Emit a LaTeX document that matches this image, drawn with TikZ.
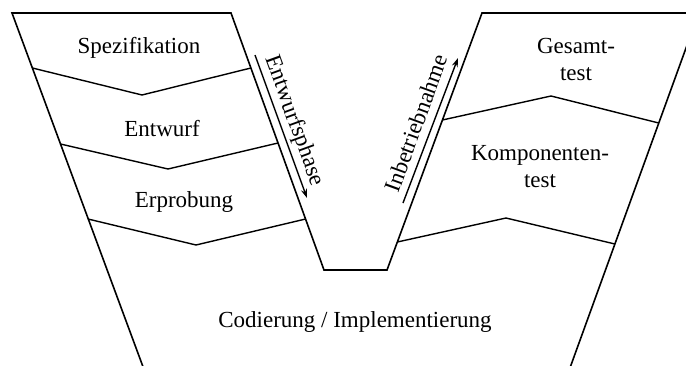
\documentclass[tikz,border=0pt]{standalone}
\usepackage{fontspec}
\setmainfont{Liberation Serif}
\usetikzlibrary{arrows.meta}
\begin{document}
\begin{tikzpicture}[x=1pt,y=-1pt,
  outline/.style={line width=1.6pt,line join=miter},
  sep/.style={line width=1.4pt},
  phasearrow/.style={line width=1.4pt,-{Stealth[length=9pt,width=6pt]}},
  lbl/.style={font=\fontsize{23}{27}\selectfont,align=center,inner sep=0pt}]
\useasboundingbox (0,0) rectangle (686,365);
\clip (0,0) rectangle (686,365);
% outline coordinates
\coordinate (TL) at (12,13);
\coordinate (TLi) at (231,13);
\coordinate (BLi) at (324,270);
\coordinate (BRi) at (387,270);
\coordinate (TRi) at (482,13);
\coordinate (TR) at (698.7,13);
\coordinate (BL) at (144.2,370);
\coordinate (BR) at (569.2,370);
% outline
\draw[outline] (BL) -- (TL) -- (TLi) -- (BLi) -- (BRi) -- (TRi) -- (TR) -- (BR);
% left separators
\draw[sep] (32.4,68) -- (142,95) -- (250.9,68);
\draw[sep] (60.5,144) -- (168,169) -- (278,143);
\draw[sep] (88,219) -- (196,245) -- (305.6,219);
% right separators
\draw[sep] (442.4,120) -- (551,96) -- (658.8,123);
\draw[sep] (397.3,242) -- (506,218) -- (614.9,244);
% labels
\node[lbl] (spez) at (139,48) {Spezifikation};
\node[lbl] (entw) at (162,129) {Entwurf};
\node[lbl] (erpr) at (184,202) {Erprobung};
\node[lbl] (gesa) at (576,59) {Gesamt-\\test};
\node[lbl] (komp) at (540,167) {Komponenten-\\test};
\node[lbl] (code) at (355,322) {Codierung / Implementierung};
% phase arrows
\coordinate (a1s) at (255,55);
\coordinate (a1e) at (307,198);
\draw[phasearrow] (a1s) -- (a1e);
\node[lbl,rotate=-70] (ephase) at (294,121) {Entwurfsphase};
\coordinate (a2s) at (403,203);
\coordinate (a2e) at (458,58);
\draw[phasearrow] (a2s) -- (a2e);
\node[lbl,rotate=70] (iphase) at (416,123) {Inbetriebnahme};
\end{tikzpicture}
\end{document}
